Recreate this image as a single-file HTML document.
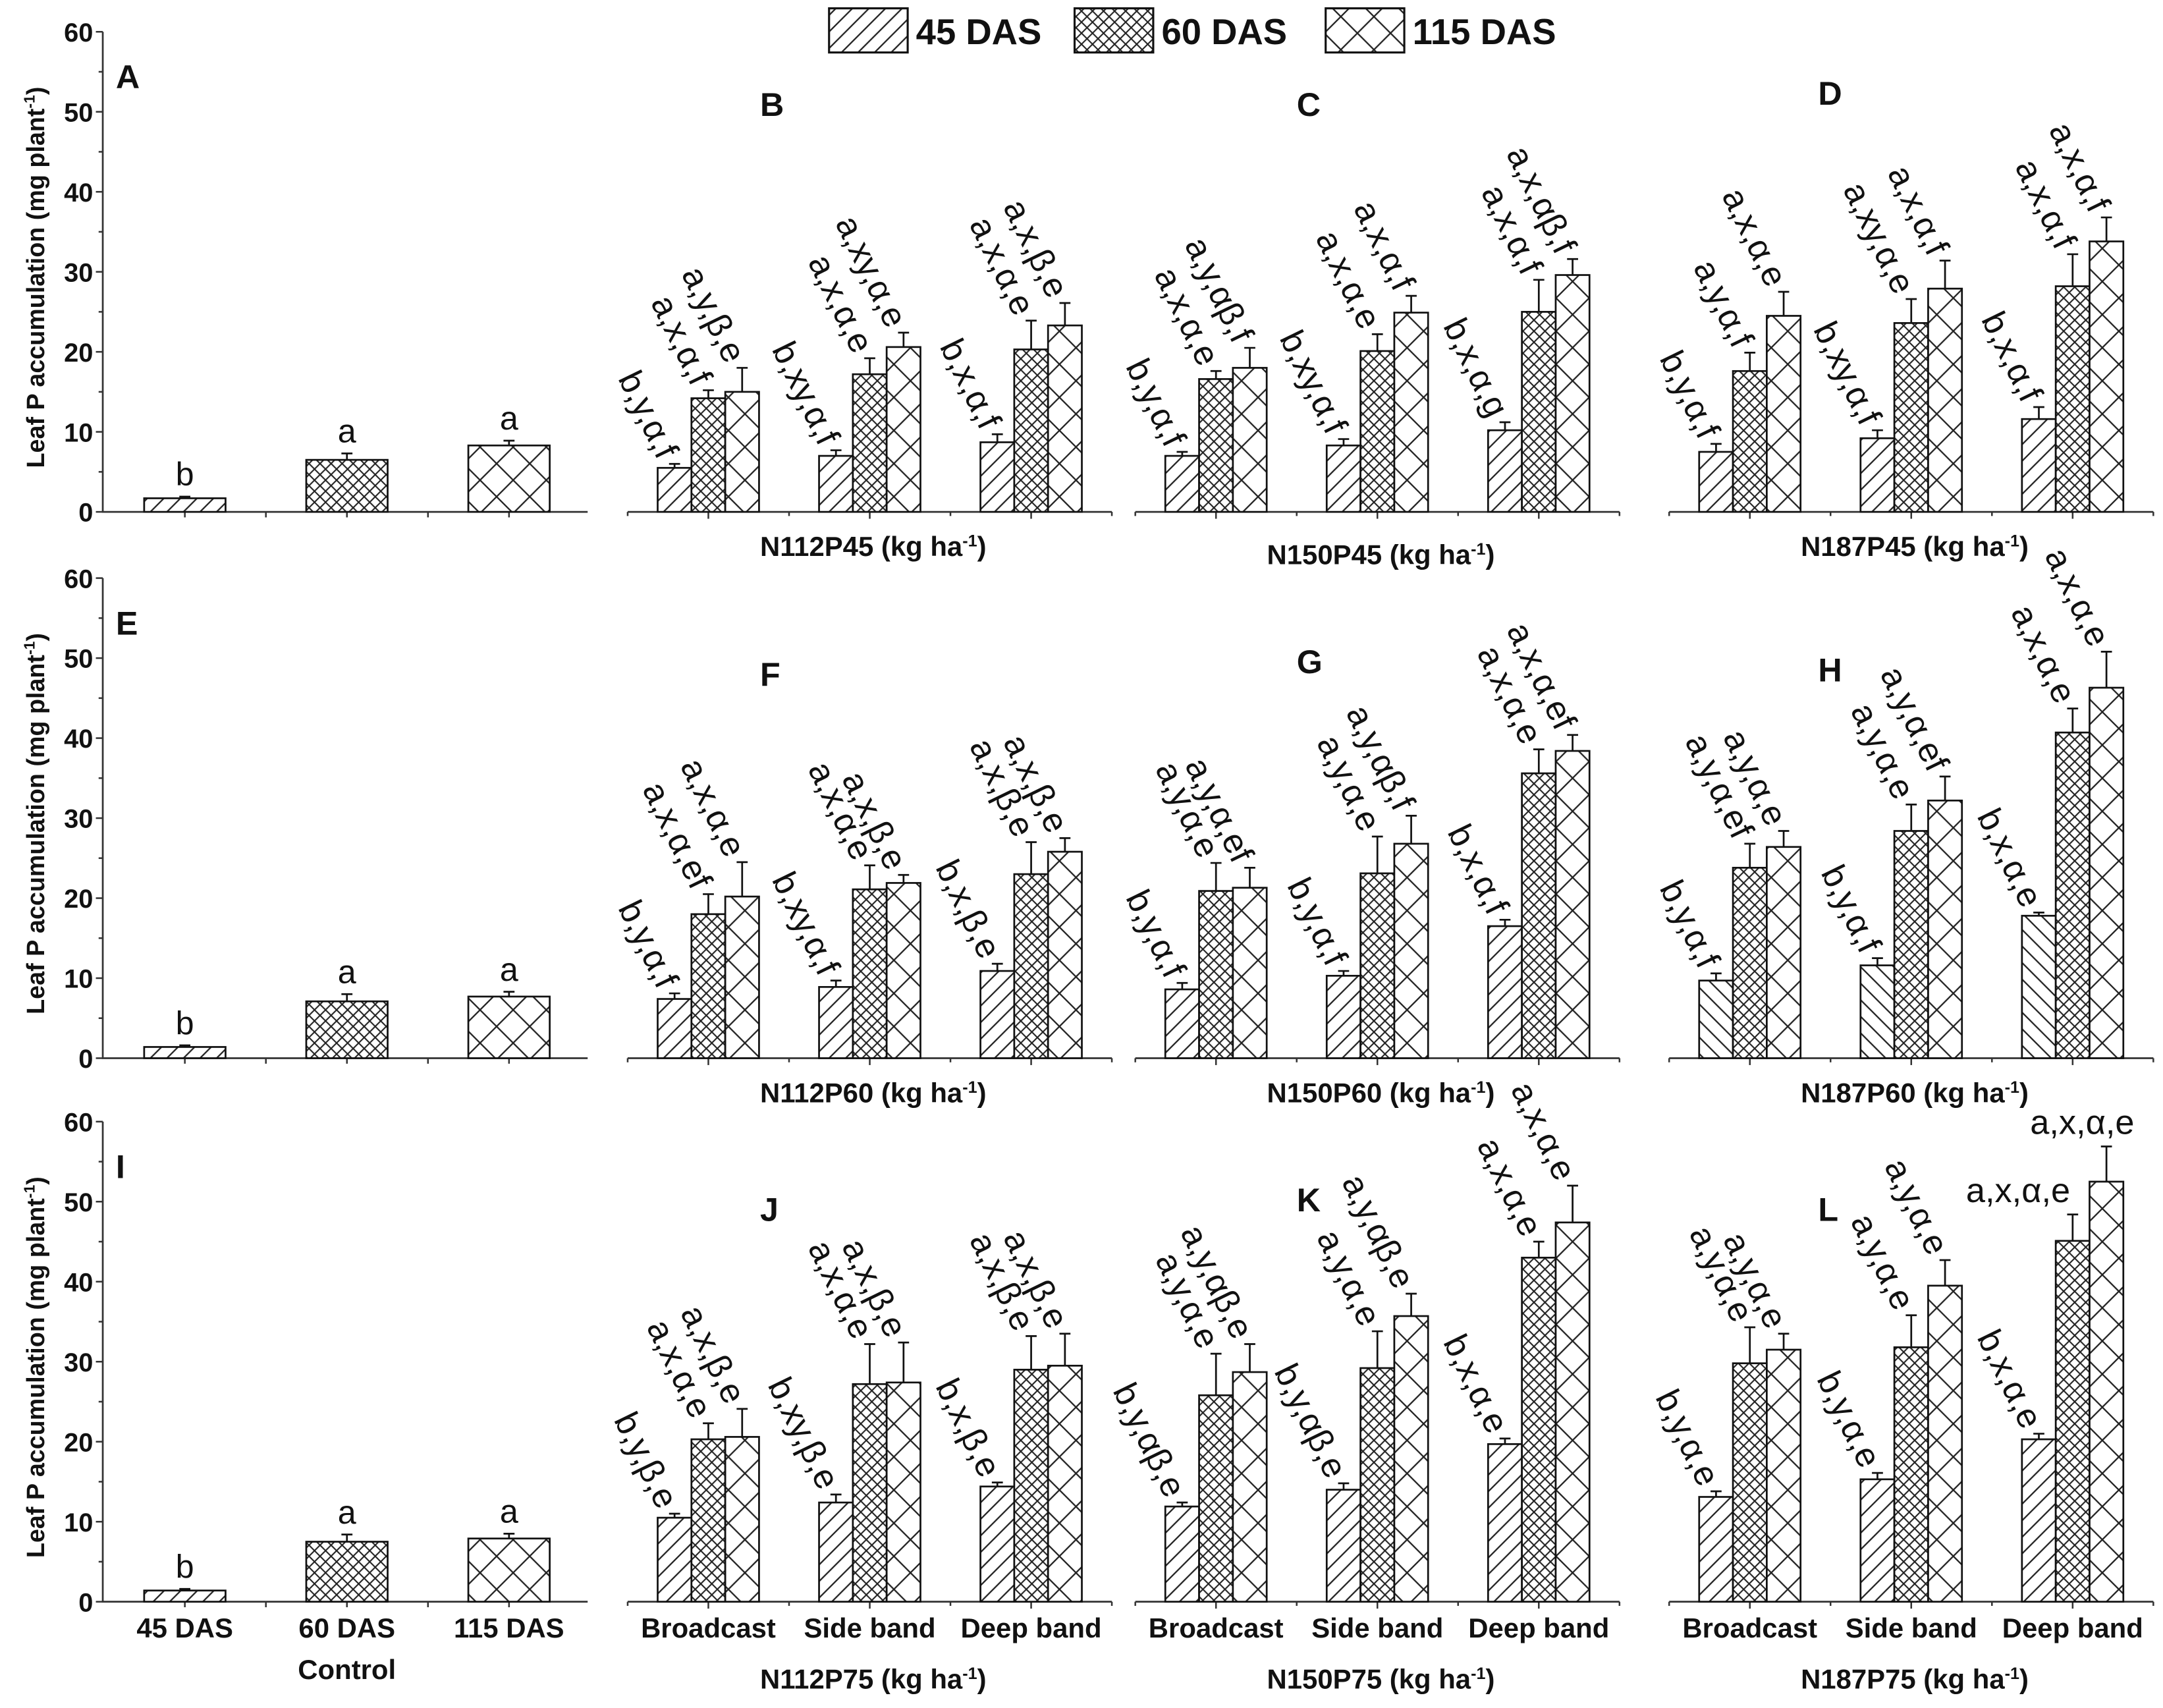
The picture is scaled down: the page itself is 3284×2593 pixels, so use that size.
<!DOCTYPE html>
<html><head><meta charset="utf-8"><style>
html,body{margin:0;padding:0;background:#fff;}
svg{display:block;}
text{font-family:"Liberation Sans",sans-serif;fill:#111;}
.b{font-weight:bold;font-family:"Liberation Sans Narrow","Liberation Sans",sans-serif;}
</style></head><body>
<svg id="chart" xmlns="http://www.w3.org/2000/svg" width="3284" height="2593" viewBox="0 0 1568 1238">
<defs>
<pattern id="p45" patternUnits="userSpaceOnUse" width="12" height="12"><rect width="12" height="12" fill="#fff"/><path d="M-3,15 L15,-3 M-3,3 L3,-3 M9,15 L15,9" stroke="#222" stroke-width="1.1"/></pattern>
<pattern id="p45b" patternUnits="userSpaceOnUse" width="12" height="12"><rect width="12" height="12" fill="#fff"/><path d="M-3,-3 L15,15 M9,-3 L15,3 M-3,9 L3,15" stroke="#222" stroke-width="1.1"/></pattern>
<pattern id="p60" patternUnits="userSpaceOnUse" width="8" height="8"><rect width="8" height="8" fill="#fff"/><path d="M-2,10 L10,-2 M-2,-2 L10,10" stroke="#222" stroke-width="1"/></pattern>
<pattern id="p115" patternUnits="userSpaceOnUse" width="24" height="24"><rect width="24" height="24" fill="#fff"/><path d="M-2,26 L26,-2 M-2,-2 L26,26" stroke="#222" stroke-width="1.1"/></pattern>
</defs>
<g id="legend">
<rect x="601" y="6" width="57" height="32" fill="url(#p45)" stroke="#111" stroke-width="1.5"/>
<text class="b" x="664" y="32" font-size="26">45 DAS</text>
<rect x="779" y="6" width="57" height="32" fill="url(#p60)" stroke="#111" stroke-width="1.5"/>
<text class="b" x="842" y="32" font-size="26">60 DAS</text>
<rect x="961" y="6" width="57" height="32" fill="url(#p115)" stroke="#111" stroke-width="1.5"/>
<text class="b" x="1024" y="32" font-size="26">115 DAS</text>
</g>
</svg>
<script>
// ---- data ----
const categoriesControl = ["45 DAS","60 DAS","115 DAS"];
const categoriesMethod = ["Broadcast","Side band","Deep band"];
const yTicks = [0,10,20,30,40,50,60];
const controlValues = [[1.7,6.5,8.3],[1.4,7.1,7.7],[1.4,7.5,7.9]];
const controlErrors = [[0.2,0.8,0.6],[0.2,0.9,0.6],[0.2,0.9,0.6]];
const controlLetters = [["b","a","a"],["b","a","a"],["b","a","a"]];
const valsB = [[5.5,14.2,15],[7,17.2,20.6],[8.7,20.3,23.3]];
const errB  = [[0.5,1,3],[0.7,2,1.8],[1,3.6,2.8]];
const valsC = [[7,16.6,18],[8.3,20.1,24.9],[10.2,25,29.6]];
const errC  = [[0.5,1,2.5],[0.8,2.1,2.1],[1,4,2]];
const valsD = [[7.5,17.6,24.5],[9.2,23.6,27.9],[11.6,28.2,33.8]];
const errD  = [[1,2.3,3],[1,3,3.5],[1.5,4,3]];
const valsF = [[7.4,18,20.2],[8.9,21.1,21.9],[10.9,23,25.8]];
const errF  = [[0.7,2.5,4.3],[0.8,3,1],[0.9,4,1.7]];
const valsG = [[8.6,20.9,21.3],[10.3,23.1,26.8],[16.5,35.6,38.4]];
const errG  = [[0.8,3.5,2.5],[0.6,4.6,3.5],[0.8,3,2]];
const valsH = [[9.7,23.8,26.4],[11.6,28.4,32.2],[17.8,40.7,46.3]];
const errH  = [[0.9,3,2],[0.9,3.3,3],[0.4,3,4.5]];
const valsJ = [[10.5,20.3,20.6],[12.4,27.2,27.4],[14.4,29,29.5]];
const errJ  = [[0.5,2,3.5],[1,5,5],[0.5,4.2,4]];
const valsK = [[11.9,25.8,28.7],[14,29.2,35.7],[19.7,43,47.4]];
const errK  = [[0.5,5.2,3.5],[0.8,4.6,2.8],[0.7,2,4.6]];
const valsL = [[13.1,29.8,31.5],[15.3,31.8,39.5],[20.3,45.1,52.5]];
const errL  = [[0.7,4.5,2],[0.8,4,3.2],[0.7,3.3,4.4]];
const lettersB = [["b,y,α,f","a,x,α,f","a,y,β,e"],["b,xy,α,f","a,x,α,e","a,xy,α,e"],["b,x,α,f","a,x,α,e","a,x,β,e"]];
const lettersC = [["b,y,α,f","a,x,α,e","a,y,αβ,f"],["b,xy,α,f","a,x,α,e","a,x,α,f"],["b,x,α,g","a,x,α,f","a,x,αβ,f"]];
const lettersD = [["b,y,α,f","a,y,α,f","a,x,α,e"],["b,xy,α,f","a,xy,α,e","a,x,α,f"],["b,x,α,f","a,x,α,f","a,x,α,f"]];
const lettersF = [["b,y,α,f","a,x,α,ef","a,x,α,e"],["b,xy,α,f","a,x,α,e","a,x,β,e"],["b,x,β,e","a,x,β,e","a,x,β,e"]];
const lettersG = [["b,y,α,f","a,y,α,e","a,y,α,ef"],["b,y,α,f","a,y,α,e","a,y,αβ,f"],["b,x,α,f","a,x,α,e","a,x,α,ef"]];
const lettersH = [["b,y,α,f","a,y,α,ef","a,y,α,e"],["b,y,α,f","a,y,α,e","a,y,α,ef"],["b,x,α,e","a,x,α,e","a,x,α,e"]];
const lettersJ = [["b,y,β,e","a,x,α,e","a,x,β,e"],["b,xy,β,e","a,x,α,e","a,x,β,e"],["b,x,β,e","a,x,β,e","a,x,β,e"]];
const lettersK = [["b,y,αβ,e","a,y,α,e","a,y,αβ,e"],["b,y,αβ,e","a,y,α,e","a,y,αβ,e"],["b,x,α,e","a,x,α,e","a,x,α,e"]];
const lettersL = [["b,y,α,e","a,y,α,e","a,y,α,e"],["b,y,α,e","a,y,α,e","a,y,α,e"],["b,x,α,e","a,x,α,e","a,x,α,e"]];
const panelTitles = [["N112P45","N150P45","N187P45"],["N112P60","N150P60","N187P60"],["N112P75","N150P75","N187P75"]];
const panelLetters = [["A","B","C","D"],["E","F","G","H"],["I","J","K","L"]];

// ---- layout ----
const NS = "http://www.w3.org/2000/svg";
const svg = document.getElementById("chart");
const rowBase = [371, 767, 1161];
const pxPerUnit = 5.8;
const yScale = (v, r) => rowBase[r] - v * pxPerUnit;
const ctrlAxisX = 74.5, ctrlAxisEnd = 426;
const ctrlX = i => 134 + i * 117.5;
const panelX0 = [455, 823, 1210];
const groupX = (p, g) => panelX0[p] + 58.5 * (1 + 2 * g);
const barW = 24.5;
const pats = ["url(#p45)", "url(#p60)", "url(#p115)"];

function mk(tag, attrs, parent) {
  const e = document.createElementNS(NS, tag);
  for (const k in attrs) e.setAttribute(k, attrs[k]);
  (parent || svg).appendChild(e);
  return e;
}
function txt(s, attrs, parent) { const e = mk("text", attrs, parent); e.textContent = s; return e; }

function drawBar(g, x, w, v, err, r, pat) {
  const y = yScale(v, r), yb = yScale(0, r), ye = yScale(v + err, r);
  const b = mk("rect", {x: x, y: y, width: w, height: yb - y, fill: pat, stroke: "#111", "stroke-width": 1.3}, g);
  
  
  const cx = x + w / 2;
  const e = mk("path", {d: `M${cx},${y} L${cx},${ye} M${cx-4},${ye} L${cx+4},${ye}`, stroke: "#111", "stroke-width": 1.3, fill: "none"}, g);
  
  
  return ye;
}

const panelVals = [[valsB, valsC, valsD], [valsF, valsG, valsH], [valsJ, valsK, valsL]];
const panelErrs = [[errB, errC, errD], [errF, errG, errH], [errJ, errK, errL]];
const panelLets = [[lettersB, lettersC, lettersD], [lettersF, lettersG, lettersH], [lettersJ, lettersK, lettersL]];

for (let r = 0; r < 3; r++) {
  const g = mk("g", {});
  
  
  const yTop = yScale(60, r), yb = yScale(0, r);
  const ax = mk("path", {d: `M${ctrlAxisX},${yTop} L${ctrlAxisX},${yb} L${ctrlAxisEnd},${yb}`, stroke: "#333", "stroke-width": 1.3, fill: "none"}, g);
  
  
  for (let v = 0; v <= 60; v += 5) {
    const y = yScale(v, r);
    mk("line", {x1: ctrlAxisX - (v % 10 === 0 ? 5 : 3), x2: ctrlAxisX, y1: y, y2: y, stroke: "#333", "stroke-width": 1.2}, g);
  }
  yTicks.forEach(v => {
    const t = txt(String(v), {x: ctrlAxisX - 7, y: yScale(v, r) + 7, "text-anchor": "end", "font-size": 19, class: "b"}, g);
    
    
  });
  for (let i = 0; i < 5; i++) {
    const x = ctrlX(0) + i * 58.75;
    mk("line", {x1: x, x2: x, y1: yb, y2: yb + 4, stroke: "#333", "stroke-width": 1.2}, g);
  }
  const yl = txt("", {transform: `translate(32,${(yTop + yb) / 2 + 4}) rotate(-90)`, "text-anchor": "middle", "font-size": 18, class: "b"}, g);
  
  
  yl.textContent = "Leaf P accumulation (mg plant";
  const sup = mk("tspan", {dy: -7, "font-size": 11}, yl); sup.textContent = "-1";
  const cl = mk("tspan", {dy: 7}, yl); cl.textContent = ")";
  const pl = txt(panelLetters[r][0], {x: 84, y: 64 + [0, 396, 790][r], "font-size": 24, class: "b"}, g);
  
  
  for (let i = 0; i < 3; i++) {
    const x = ctrlX(i) - 29.5;
    const ye = drawBar(g, x, 59, controlValues[r][i], controlErrors[r][i], r, pats[i]);
    const l = txt(controlLetters[r][i], {x: ctrlX(i), y: ye - 8, "text-anchor": "middle", "font-size": 24}, g);
    
    
  }
  if (r === 2) {
    categoriesControl.forEach((c, i) => {
      const t = txt(c, {x: ctrlX(i), y: 1187, "text-anchor": "middle", "font-size": 20, class: "b"}, g);
      
      
    });
    const ct = txt("Control", {x: ctrlX(1), y: 1217, "text-anchor": "middle", "font-size": 20, class: "b"}, g);
    
    
  }

  for (let p = 0; p < 3; p++) {
    const pg = mk("g", {});
    
    
    const x0 = panelX0[p];
    const ax2 = mk("line", {x1: x0, x2: x0 + 351, y1: yb, y2: yb, stroke: "#333", "stroke-width": 1.3}, pg);
    
    
    for (let k = 0; k <= 6; k++) {
      mk("line", {x1: x0 + 58.5 * k, x2: x0 + 58.5 * k, y1: yb, y2: yb + (k % 2 ? 5 : 3), stroke: "#333", "stroke-width": 1.2}, pg);
    }
    const vals = panelVals[r][p], errs = panelErrs[r][p], lets = panelLets[r][p];
    for (let gi = 0; gi < 3; gi++) {
      for (let i = 0; i < 3; i++) {
        const x = groupX(p, gi) - 1.5 * barW + i * barW;
        let pat = pats[i];
        if (i === 0 && r === 1 && p === 2) pat = "url(#p45b)";
        const ye = drawBar(pg, x, barW, vals[gi][i], errs[gi][i], r, pat);
        let l;
        if (r === 2 && p === 2 && gi === 2 && i > 0) {
          l = txt(lets[gi][i], {x: x + barW + (i === 1 ? -14 : 8), y: ye - 9, "text-anchor": "end", "font-size": 25}, pg);
        } else {
          const ax_ = x + barW / 2 - 12, ay_ = ye - 2;
          l = txt(lets[gi][i], {transform: `translate(${ax_},${ay_}) rotate(64)`, "text-anchor": "end", "font-size": 25}, pg);
        }
        
        
      }
      if (r === 2) {
        const c = txt(categoriesMethod[gi], {x: groupX(p, gi), y: 1187, "text-anchor": "middle", "font-size": 20, class: "b"}, pg);
        
        
      }
    }
    const tY = r === 2 ? 1224 : yb + 32 + (p === 1 && r === 0 ? 6 : 0);
    const tt = txt(panelTitles[r][p] + " (kg ha", {x: x0 + 178, y: tY, "text-anchor": "middle", "font-size": 20, class: "b"}, pg);
    
    
    const s1 = mk("tspan", {dy: -7, "font-size": 12}, tt); s1.textContent = "-1";
    const s2 = mk("tspan", {dy: 7}, tt); s2.textContent = ")";
    const lx = [551, 940, 1318][p];
    const ly = [[84, 84, 76], [497, 488, 494], [885, 878, 885]][r][p];
    const pl2 = txt(panelLetters[r][p + 1], {x: lx, y: ly, "font-size": 24, class: "b"}, pg);
    
    
  }
}
</script>
</body></html>
